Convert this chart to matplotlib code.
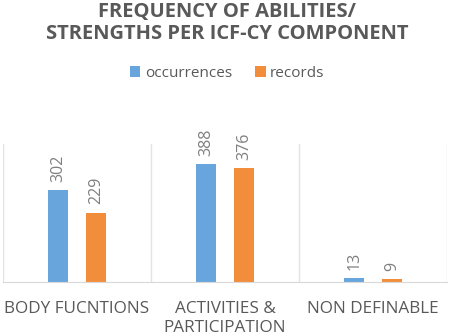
import numpy as np
import matplotlib.pyplot as plt

categories = ["BODY FUCNTIONS", "ACTIVITIES &\nPARTICIPATION", "NON DEFINABLE"]
occurrences = [302, 388, 13]
records = [229, 376, 9]
series_names = ["occurrences", "records"]

plt.rcParams["font.family"] = ["Open Sans", "DejaVu Sans"]

blue = "#67A5DC"
orange = "#F28E3B"
grey = "#595959"

fig = plt.figure(figsize=(4.54, 3.34), dpi=100)
ax = fig.add_axes([0.0066, 0.1557, 0.978, 0.4133])

x = np.arange(len(categories))
w = 0.135
off = 0.128
b1 = ax.bar(x - off, occurrences, w, color=blue, label=series_names[0])
b2 = ax.bar(x + off, records, w, color=orange, label=series_names[1])

for bars in (b1, b2):
  for r in bars:
    ax.annotate(str(int(r.get_height())), xy=(r.get_x() + r.get_width()/2, r.get_height()),
                xytext=(0, 6), textcoords="offset points", rotation=90,
                ha="center", va="bottom", fontsize=11.5, color="#7F7F7F",
                annotation_clip=False)

ax.set_xlim(-0.5, len(categories) - 0.5)
ax.set_ylim(0, 455)
for s in ["top", "left", "right"]:
  ax.spines[s].set_visible(False)
ax.spines["bottom"].set_color("#D9D9D9")
for xv in np.arange(-0.5, len(categories), 1.0):
  ax.axvline(xv, color="#E3E3E3", lw=1, zorder=0)
ax.set_yticks([])
ax.set_xticks(x)
ax.set_xticklabels(categories, fontsize=12.3, color=grey, linespacing=1.2)
ax.tick_params(axis="x", length=0, pad=14)

fig.text(0.5, 0.932, "FREQUENCY OF ABILITIES/\nSTRENGTHS PER ICF-CY COMPONENT",
         ha="center", va="center", fontsize=14.5, fontweight="bold", color=grey,
         linespacing=1.15)

fig.legend(loc="center", bbox_to_anchor=(0.5, 0.78), ncol=2, frameon=False,
           fontsize=11, handlelength=0.7, handleheight=0.7, handletextpad=0.3,
           columnspacing=1.5, labelcolor=grey)

plt.savefig("out.png", dpi=100)
